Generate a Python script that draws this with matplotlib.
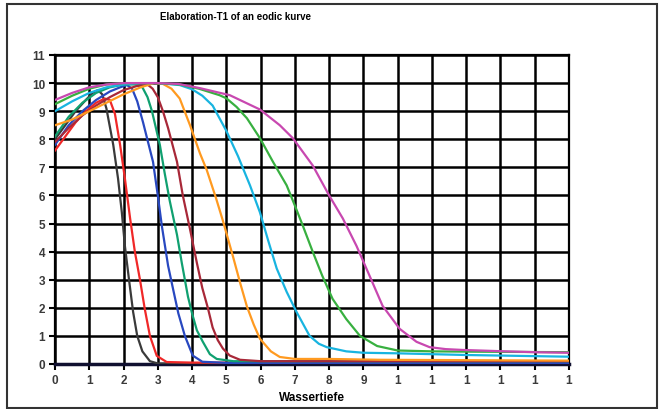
import matplotlib
matplotlib.use("Agg")
import matplotlib.pyplot as plt
from matplotlib.patches import Rectangle

title = "Elaboration-T1 of an eodic kurve"
xlabel = "Wassertiefe"
xtick_vals = list(range(16))
xtick_labels = ['0', '1', '2', '3', '4', '5', '6', '7', '8', '9', '1', '1', '1', '1', '1', '1']
ytick_vals = list(range(12))

black_x = [0, 0.3, 0.6, 0.9, 1.1, 1.25, 1.38, 1.5, 1.7, 1.84, 1.95, 2.04, 2.16, 2.28, 2.4, 2.55, 2.77, 3.0, 15]
black_y = [8.0, 8.5, 9.0, 9.4, 9.65, 9.75, 9.6, 9.1, 7.8, 6.6, 5.4, 4.2, 3.0, 1.85, 1.0, 0.45, 0.1, 0.02, 0.02]

red_x = [0, 0.3, 0.6, 0.9, 1.2, 1.45, 1.6, 1.75, 1.9, 2.04, 2.19, 2.33, 2.48, 2.62, 2.77, 2.97, 3.26, 4, 15]
red_y = [7.6, 8.1, 8.6, 9.0, 9.3, 9.45, 9.4, 8.9, 7.8, 6.6, 5.2, 4.0, 3.0, 1.96, 1.0, 0.29, 0.07, 0.05, 0.05]

blue_x = [0, 0.4, 0.8, 1.2, 1.6, 1.9, 2.1, 2.25, 2.4, 2.57, 2.86, 3.0, 3.12, 3.3, 3.44, 3.6, 3.79, 4.02, 4.3, 5, 15]
blue_y = [7.8, 8.5, 9.0, 9.4, 9.7, 9.85, 9.93, 9.8, 9.35, 8.6, 7.2, 6.0, 4.9, 3.5, 2.7, 1.8, 1.0, 0.3, 0.08, 0.04, 0.04]

teal_x = [0, 0.4, 0.8, 1.2, 1.6, 2.0, 2.35, 2.55, 2.7, 2.83, 3.06, 3.2, 3.35, 3.56, 3.7, 3.88, 4.0, 4.14, 4.31, 4.52, 4.72, 5.2, 15]
teal_y = [8.1, 8.8, 9.3, 9.65, 9.85, 9.95, 9.95, 9.85, 9.5, 9.0, 7.8, 6.8, 5.8, 4.6, 3.6, 2.4, 1.8, 1.2, 0.8, 0.35, 0.18, 0.1, 0.1]

darkred_x = [0, 0.4, 0.8, 1.2, 1.6, 2.0, 2.4, 2.7, 2.85, 3.0, 3.15, 3.3, 3.56, 3.73, 3.94, 4.14, 4.3, 4.46, 4.6, 4.75, 4.9, 5.1, 5.4, 6, 15]
darkred_y = [7.9, 8.4, 8.85, 9.2, 9.5, 9.75, 9.9, 9.95, 9.8, 9.5, 9.0, 8.4, 7.2, 6.0, 4.8, 3.6, 2.7, 2.0, 1.3, 0.85, 0.55, 0.3, 0.15, 0.1, 0.1]

orange_x = [0, 0.5, 1, 1.5, 2, 2.5, 2.9, 3.15, 3.4, 3.64, 3.94, 4.23, 4.43, 4.7, 4.9, 5.2, 5.4, 5.6, 5.8, 5.98, 6.3, 6.56, 7, 8, 9.5, 15]
orange_y = [8.5, 8.7, 9.0, 9.3, 9.6, 9.85, 10.0, 9.97, 9.8, 9.45, 8.5, 7.5, 6.9, 5.9, 5.1, 3.8, 2.9, 2.05, 1.4, 0.9, 0.45, 0.25, 0.18, 0.18, 0.15, 0.12]

cyan_x = [0, 0.5, 1, 1.5, 2, 2.5, 3, 3.64, 4.0, 4.3, 4.6, 5.0, 5.34, 5.69, 5.98, 6.22, 6.47, 6.76, 7.05, 7.43, 7.7, 7.93, 8.5, 9, 10, 12, 15]
cyan_y = [9.0, 9.35, 9.65, 9.85, 9.95, 10.0, 10.0, 9.93, 9.78, 9.55, 9.2, 8.3, 7.4, 6.36, 5.4, 4.4, 3.4, 2.57, 1.85, 1.0, 0.72, 0.6, 0.45, 0.4, 0.38, 0.32, 0.26]

green_x = [0, 0.5, 1, 1.5, 2, 3, 3.64, 4.2, 4.8, 5.0, 5.3, 5.6, 5.98, 6.36, 6.76, 7.0, 7.23, 7.52, 7.8, 8.1, 8.5, 8.9, 9.4, 10, 11, 12, 15]
green_y = [9.25, 9.55, 9.8, 9.95, 10.0, 10.0, 9.95, 9.8, 9.57, 9.46, 9.15, 8.75, 8.04, 7.2, 6.36, 5.64, 4.93, 4.0, 3.14, 2.32, 1.6, 1.0, 0.64, 0.48, 0.45, 0.44, 0.42]

magenta_x = [0, 0.5, 1, 1.5, 2, 3, 3.6, 4.23, 5.1, 5.98, 6.56, 6.94, 7.52, 8.0, 8.4, 8.8, 9.18, 9.56, 10.06, 10.55, 10.93, 11.4, 11.9, 12.9, 14, 15]
magenta_y = [9.4, 9.65, 9.85, 9.95, 10.0, 10.0, 9.97, 9.82, 9.57, 9.06, 8.5, 8.04, 7.07, 6.0, 5.18, 4.2, 3.14, 2.07, 1.25, 0.79, 0.6, 0.53, 0.5, 0.46, 0.42, 0.4]

series = [
    (black_x, black_y, '#3a3a3a'),
    (red_x, red_y, '#f02828'),
    (blue_x, blue_y, '#2848c0'),
    (teal_x, teal_y, '#10a070'),
    (darkred_x, darkred_y, '#a82838'),
    (orange_x, orange_y, '#ff9a20'),
    (cyan_x, cyan_y, '#18b4e0'),
    (green_x, green_y, '#38b040'),
    (magenta_x, magenta_y, '#c848b0'),
]

plt.rcParams['font.family'] = ['Liberation Sans', 'DejaVu Sans']

fig = plt.figure(figsize=(6.59, 4.10), dpi=100)
ax = fig.add_axes([55 / 659, 45 / 410, 514 / 659, 309 / 410])

for xs, ys, c in series:
    ax.plot(xs, ys, color=c, lw=1.6, zorder=3, solid_joinstyle='round')

ax.set_xlim(0, 15)
ax.set_ylim(0, 11)
ax.set_xticks(xtick_vals)
ax.set_xticklabels(xtick_labels)
ax.set_yticks(ytick_vals)
ax.grid(True, color='black', lw=1.8, zorder=1)
ax.set_axisbelow(True)
for s in ax.spines.values():
    s.set_color('black')
    s.set_linewidth(1.6)
ax.spines['bottom'].set_linewidth(2.5)
ax.spines['bottom'].set_color('#101030')
ax.tick_params(axis='both', length=4, width=1.5, color='black', labelsize=8.5, labelcolor='#3a3a3a', pad=3)
for lbl in ax.get_xticklabels() + ax.get_yticklabels():
    lbl.set_fontweight('bold')
ax.set_xlabel(xlabel, fontsize=8.5, fontweight='bold', labelpad=4)

fig.text(235 / 659, 1 - 17 / 410, title, fontsize=7, fontweight='bold', ha='center', va='center')

fig.patches.append(Rectangle((7 / 659, 1 / 410), 650 / 659, 404 / 410, transform=fig.transFigure,
                             fill=False, edgecolor='#333333', lw=1.5))

fig.savefig('out.png', dpi=100)
